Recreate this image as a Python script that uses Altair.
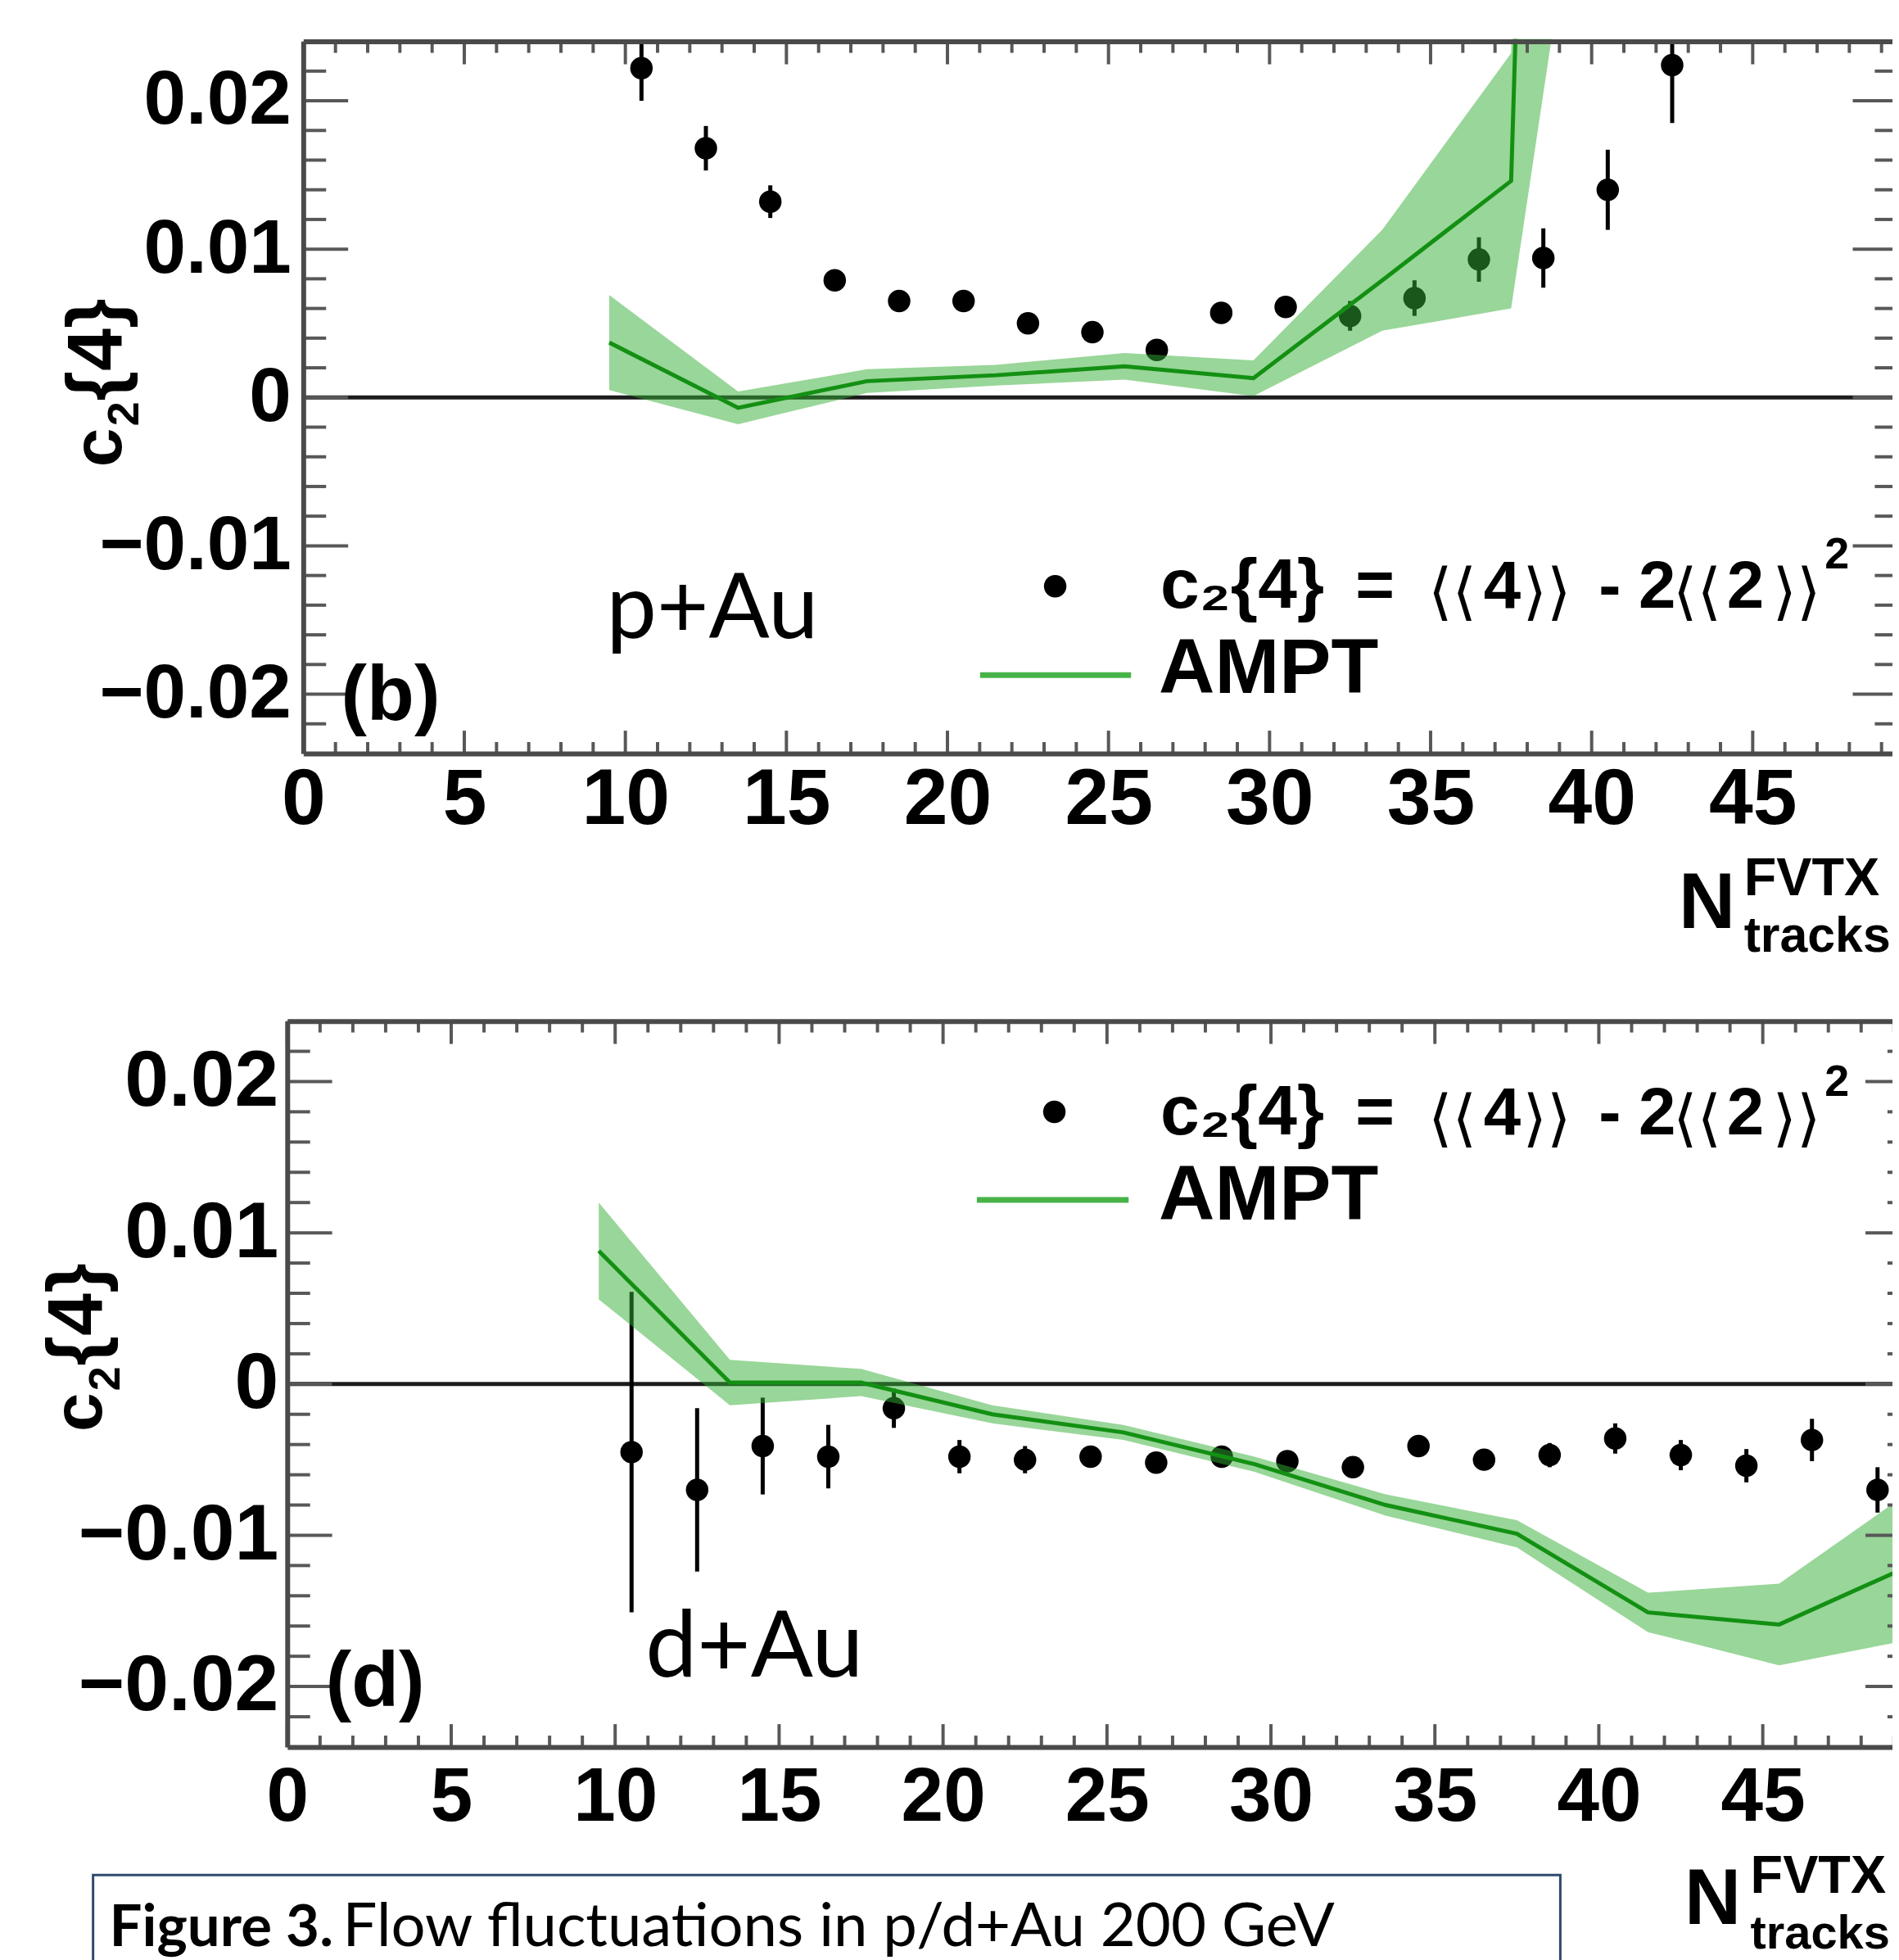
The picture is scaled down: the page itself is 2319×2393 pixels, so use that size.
import altair as alt
import pandas as pd

# ---------------- values ----------------
# Panel (b): p+Au
pau_ntrk = [10.5, 12.5, 14.5, 16.5, 18.5, 20.5, 22.5, 24.5, 26.5, 28.5, 30.5,
            32.5, 34.5, 36.5, 38.5, 40.5, 42.5]
pau_c24 = [0.0222, 0.0168, 0.0132, 0.0079, 0.0065, 0.0065, 0.0050, 0.0044, 0.0032,
           0.0057, 0.0061, 0.0055, 0.0067, 0.0093, 0.0094, 0.0140, 0.0224]
pau_err = [0.0022, 0.0015, 0.0011, 0.0004, 0.0003, 0.0003, 0.0003, 0.0003, 0.0004,
           0.0005, 0.0006, 0.0010, 0.0012, 0.0015, 0.0020, 0.0027, 0.0039]
pau_ampt_ntrk = [9.5, 13.5, 17.5, 21.5, 25.5, 29.5, 33.5, 37.5, 41.5]
pau_ampt = [0.0037, -0.0007, 0.0011, 0.0015, 0.0021, 0.0013, 0.0079, 0.0146, 0.3000]
pau_ampt_err = [0.0032, 0.0011, 0.0008, 0.0007, 0.0009, 0.0012, 0.0034, 0.0086, 0.2360]

# Panel (d): d+Au
dau_ntrk = [10.5, 12.5, 14.5, 16.5, 18.5, 20.5, 22.5, 24.5, 26.5, 28.5, 30.5,
            32.5, 34.5, 36.5, 38.5, 40.5, 42.5, 44.5, 46.5, 48.5]
dau_c24 = [-0.0045, -0.0070, -0.0041, -0.0048, -0.0016, -0.0048, -0.0050, -0.0048,
           -0.0052, -0.0048, -0.0051, -0.0055, -0.0041, -0.0050, -0.0047, -0.0036,
           -0.0047, -0.0054, -0.0037, -0.0070]
dau_err = [0.0106, 0.0054, 0.0032, 0.0021, 0.0013, 0.0011, 0.0009, 0.0005, 0.0005,
           0.0005, 0.0005, 0.0006, 0.0006, 0.0007, 0.0008, 0.0010, 0.0010, 0.0011,
           0.0014, 0.0015]
dau_ampt_ntrk = [9.5, 13.5, 17.5, 21.5, 25.5, 29.5, 33.5, 37.5, 41.5, 45.5, 49.5]
dau_ampt = [0.0088, 0.0001, 0.0001, -0.0020, -0.0032, -0.0053, -0.0080, -0.0099,
            -0.0151, -0.0159, -0.0120]
dau_ampt_err = [0.0032, 0.0015, 0.0009, 0.0006, 0.0005, 0.0005, 0.0007, 0.0009,
                0.0013, 0.0027, 0.0049]

# axis ticks
x_major_ticks = [0, 5, 10, 15, 20, 25, 30, 35, 40, 45]
x_minor_ticks = [v for v in range(1, 50) if v % 5 != 0]
y_major_ticks = [-0.02, -0.01, 0.0, 0.01, 0.02]
y_minor_ticks = [round(-0.024 + 0.002 * i, 3) for i in range(1, 24) if i % 5 != 2]
X_MAX = 49.5
Y_LIM = 0.024

# ---------------- styling / page geometry ----------------
FRAME = "#4a4a4a"
TICK = "#585858"
BAND = "#33ad33"
LINE = "#139013"
LEG_LINE = "#47b247"
ARIAL = "Liberation Sans"
CALIBRI = "Lato"
DEJAVU = "DejaVu Sans"

OX, OY = 371.6, 46.6            # page position of the plotting group origin
SVG_W, SVG_H = 2311, 2385
GW, GH = SVG_W - (OX - 8), SVG_H - (OY - 8)

one = pd.DataFrame({"k": [0]})


def label(s, px, py, size, font=ARIAL, weight="bold", align="left", angle=0):
    return alt.Chart(one).mark_text(
        text=s, font=font, fontWeight=weight, fontSize=size, align=align,
        baseline="alphabetic", angle=angle, color="black", limit=0
    ).encode(x=alt.value(px - OX), y=alt.value(py - OY))


def panel(ntrk, c24, err, a_ntrk, a_val, a_err, top_py, bot_py, x0_px, px_per_unit,
          ylab_size, ylab_pad, xlab_size, xlab_pad):
    y_top = top_py - OY
    y_bot = bot_py - OY
    x_left = x0_px - OX
    x_right = x_left + X_MAX * px_per_unit
    xs = alt.Scale(domain=[0, X_MAX], range=[x_left, x_right], nice=False, zero=False)
    ys = alt.Scale(domain=[-Y_LIM, Y_LIM], range=[y_bot, y_top], nice=False, zero=False)
    ysc = alt.Scale(domain=[-Y_LIM, Y_LIM], range=[y_bot, y_top], nice=False, zero=False,
                    clamp=True)

    def X(f):
        return alt.X(f, type="quantitative", scale=xs, axis=None)

    pts = pd.DataFrame({"n": ntrk, "c": c24,
                        "lo": [c - e for c, e in zip(c24, err)],
                        "hi": [c + e for c, e in zip(c24, err)]})
    amp = pd.DataFrame({"n": a_ntrk, "v": a_val,
                        "lo": [v - e for v, e in zip(a_val, a_err)],
                        "hi": [v + e for v, e in zip(a_val, a_err)]})

    zero = alt.Chart(one).mark_rule(color="#1c1c1c", strokeWidth=5).encode(
        x=alt.XDatum(0, scale=xs, axis=None), x2=alt.X2Datum(X_MAX),
        y=alt.YDatum(0, scale=ys, axis=None))
    bars = alt.Chart(pts).mark_rule(color="black", strokeWidth=5).encode(
        x=X("n"), y=alt.Y("lo:Q", scale=ysc, axis=None), y2="hi")
    dots = alt.Chart(pts).mark_circle(size=760, color="black", opacity=1).encode(
        x=X("n"), y=alt.Y("c:Q", scale=ys, axis=None))
    band = alt.Chart(amp).mark_area(color=BAND, opacity=0.5).encode(
        x=X("n"), y=alt.Y("lo:Q", scale=ys, axis=None), y2="hi")
    line = alt.Chart(amp).mark_line(color=LINE, strokeWidth=5).encode(
        x=X("n"), y=alt.Y("v:Q", scale=ys, axis=None))

    def tdf(v):
        return pd.DataFrame({"v": v})

    frame_ax = dict(domain=True, domainColor=FRAME, domainWidth=6, ticks=False,
                    grid=False, title=None, zindex=1)
    left_axis = alt.Axis(orient="left", offset=-x_left, values=y_major_ticks,
                         labelFont=ARIAL, labelFontWeight="bold",
                         labelFontSize=ylab_size, labelColor="black", labelLimit=1000,
                         labelPadding=ylab_pad, labelFlush=False, labelOverlap=False,
                         labelExpr="datum.value == 0 ? '0' : format(datum.value, '.2f')",
                         **frame_ax)
    bottom_axis = alt.Axis(orient="bottom", offset=y_bot - GH, values=x_major_ticks,
                           format="d", labelFont=ARIAL, labelFontWeight="bold",
                           labelFontSize=xlab_size, labelColor="black", labelLimit=1000,
                           labelPadding=xlab_pad, labelFlush=False, labelOverlap=False,
                           **frame_ax)
    top_axis = alt.Axis(orient="top", offset=-y_top, labels=False, **frame_ax)

    def yt(vals, x1, x2, axis=None):
        return alt.Chart(tdf(vals)).mark_rule(color=TICK, strokeWidth=4).encode(
            y=alt.Y("v:Q", scale=ys, axis=axis), x=alt.value(x1), x2=alt.value(x2))

    def xt(vals, y1, y2, axis=None):
        return alt.Chart(tdf(vals)).mark_rule(color=TICK, strokeWidth=4).encode(
            x=alt.X("v:Q", scale=xs, axis=axis), y=alt.value(y1), y2=alt.value(y2))

    ticks = [
        yt(y_major_ticks, x_left, x_left + 55, left_axis),
        yt(y_minor_ticks, x_left, x_left + 28),
        yt(y_major_ticks, x_right - 55, x_right),
        yt(y_minor_ticks, x_right - 28, x_right),
        xt(x_major_ticks, y_bot, y_bot - 28, bottom_axis),
        xt(x_minor_ticks, y_bot, y_bot - 14),
        xt(x_major_ticks, y_top, y_top + 28, top_axis),
        xt(x_minor_ticks, y_top, y_top + 14),
    ]
    return [zero, dots, bars, band, line], ticks


def formula(base):
    # c2{4} = <<4>> - 2<<2>>^2, laid out piece by piece as in the ROOT legend
    parts = [("c\u2082{4}", 1422, 0, 86, ARIAL, "bold"),
             ("=", 1661, 0, 82, ARIAL, "bold"),
             ("\u27e8\u27e8", 1750, 6, 76, DEJAVU, "normal"),
             ("4", 1818, 0, 82, ARIAL, "bold"),
             ("\u27e9\u27e9", 1866, 6, 76, DEJAVU, "normal"),
             ("-", 1959, 0, 82, ARIAL, "bold"),
             ("2", 2008, 0, 82, ARIAL, "bold"),
             ("\u27e8\u27e8", 2050, 6, 76, DEJAVU, "normal"),
             ("2", 2116, 0, 82, ARIAL, "bold"),
             ("\u27e9\u27e9", 2172, 6, 76, DEJAVU, "normal"),
             ("2", 2236, -48, 54, ARIAL, "bold")]
    return [label(s, px, base + dy, size, font=f, weight=w)
            for s, px, dy, size, f, w in parts]


def ytitle(xb, y_start):
    # rotated "c2{4}" with a real subscript
    return [label("c", xb, y_start, 86, angle=270),
            label("2", xb + 22, y_start - 50, 54, angle=270),
            label("{4}", xb, y_start - 81, 94, angle=270)]


top_marks, top_ticks = panel(pau_ntrk, pau_c24, pau_err, pau_ampt_ntrk, pau_ampt,
                             pau_ampt_err, 46.6, 919.0, 371.6, 39.47, 93, 15, 97, 9)
bot_marks, bot_ticks = panel(dau_ntrk, dau_c24, dau_err, dau_ampt_ntrk, dau_ampt,
                             dau_ampt_err, 1246.8, 2136.2, 352.0, 40.18, 97, 11, 93, 17)

# white mask above the upper frame (hides the AMPT spike leaving the frame)
mask = alt.Chart(one).mark_rect(color="white").encode(
    x=alt.value(-OX), x2=alt.value(GW), y=alt.value(-OY), y2=alt.value(-3))

annotations = (
    # panel (b)
    ytitle(148, 568)
    + [label("(b)", 418, 878, 95),
       label("p+Au", 743, 778, 110, font=CALIBRI, weight="normal"),
       alt.Chart(one).mark_circle(size=760, color="black", opacity=1).encode(
           x=alt.value(1293 - OX), y=alt.value(714 - OY))]
    + formula(740)
    + [alt.Chart(one).mark_rule(color=LEG_LINE, strokeWidth=7).encode(
           x=alt.value(1201 - OX), x2=alt.value(1386 - OX), y=alt.value(823 - OY)),
       label("AMPT", 1420, 845, 95),
       label("N", 2057, 1133, 96),
       label("FVTX", 2137, 1093, 65),
       label("tracks", 2137, 1162, 61)]
    # panel (d)
    + ytitle(124, 1750)
    + [label("(d)", 399, 2086, 95),
       label("d+Au", 791, 2050, 113, font=CALIBRI, weight="normal"),
       alt.Chart(one).mark_circle(size=760, color="black", opacity=1).encode(
           x=alt.value(1292 - OX), y=alt.value(1358 - OY))]
    + formula(1386)
    + [alt.Chart(one).mark_rule(color=LEG_LINE, strokeWidth=7).encode(
           x=alt.value(1197 - OX), x2=alt.value(1383 - OX), y=alt.value(1466 - OY)),
       label("AMPT", 1420, 1490, 95),
       label("N", 2064, 2353, 96),
       label("FVTX", 2145, 2315, 65),
       label("tracks", 2145, 2383, 58),
       # caption box
       alt.Chart(one).mark_rect(filled=False, color="#2e4a6d", strokeWidth=3).encode(
           x=alt.value(114 - OX), x2=alt.value(1912 - OX),
           y=alt.value(2293 - OY), y2=alt.value(2440 - OY)),
       label("Figure 3.", 134, 2380, 71, font=CALIBRI, weight="bold"),
       label("Flow fluctuations in p/d+Au 200 GeV", 420, 2380, 74.5,
             font=CALIBRI, weight="normal")]
)

layers = top_marks + bot_marks + [mask] + top_ticks + bot_ticks + annotations

chart = alt.layer(*layers).properties(
    width=GW, height=GH,
    padding={"left": OX - 8, "top": OY - 8, "right": 0, "bottom": 0},
    autosize=alt.AutoSizeParams(type="none"),
).resolve_scale(x="independent", y="independent").resolve_axis(
    x="independent", y="independent").configure_view(stroke=None)

chart.save("out.html", embed_options={"renderer": "svg", "actions": False})
